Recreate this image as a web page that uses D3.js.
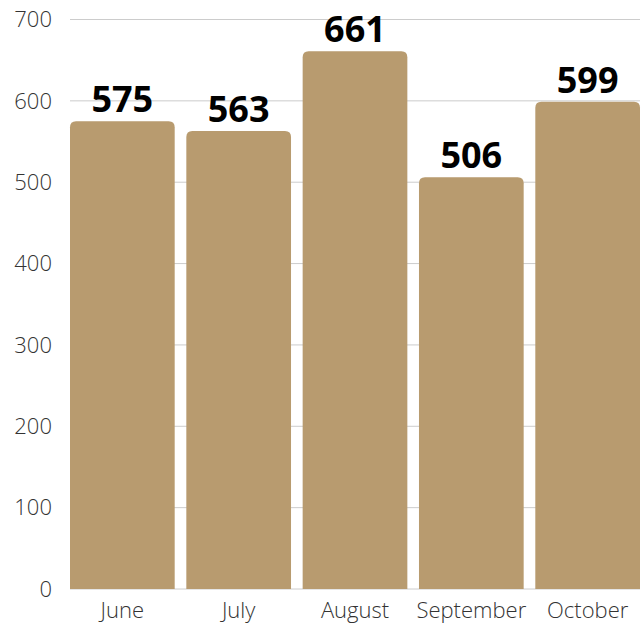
<!DOCTYPE html>
<html>
<head>
<meta charset="utf-8">
<script src="https://cdn.jsdelivr.net/npm/d3@7"></script>
<style>
  body { margin: 0; background: #fff; }
  text { font-family: "Open Sans", sans-serif; }
</style>
</head>
<body>
<script>
var months = ["June", "July", "August", "September", "October"];
var counts = [575, 563, 661, 506, 599];
var yTicks = [0, 100, 200, 300, 400, 500, 600, 700];

var W = 641, H = 624;
var margin = {top: 19.5, right: 1, bottom: 35, left: 70},
    width = W - margin.left - margin.right,
    height = H - margin.top - margin.bottom;

var svg = d3.select("body").append("svg")
    .attr("width", W)
    .attr("height", H)
  .append("g")
    .attr("transform", "translate(" + margin.left + "," + margin.top + ")");

var x = d3.scaleBand().domain(months).range([0, width]).paddingInner(0.1).paddingOuter(0);
var y = d3.scaleLinear().domain([0, 700]).range([height, 0]);

// gridlines
svg.append("g")
    .selectAll("line")
    .data(yTicks)
    .enter().append("line")
      .attr("x1", 0)
      .attr("x2", width)
      .attr("y1", function(d) { return y(d); })
      .attr("y2", function(d) { return y(d); })
      .attr("stroke", "#cccccc")
      .attr("stroke-width", 1);

// y labels
svg.append("g")
  .selectAll("text")
  .data(yTicks)
  .enter().append("text")
    .attr("x", -18)
    .attr("y", function(d) { return y(d); })
    .attr("dy", "0.35em")
    .attr("text-anchor", "end")
    .style("font-size", "22px")
    .style("font-weight", 300)
    .style("fill", "#333")
    .text(function(d) { return d; });

// bars, rounded top only
var r = 6;
function barPath(d, i) {
  var x0 = x(months[i]), w = x.bandwidth(), y0 = y(d), y1 = y(0);
  return "M" + x0 + "," + y1 +
    "V" + (y0 + r) +
    "Q" + x0 + "," + y0 + " " + (x0 + r) + "," + y0 +
    "H" + (x0 + w - r) +
    "Q" + (x0 + w) + "," + y0 + " " + (x0 + w) + "," + (y0 + r) +
    "V" + y1 + "Z";
}

svg.append("g")
  .selectAll("path")
  .data(counts)
  .enter().append("path")
    .attr("d", barPath)
    .attr("fill", "#b89b6f");

// value labels
svg.append("g")
  .selectAll("text")
  .data(counts)
  .enter().append("text")
    .attr("x", function(d, i) { return x(months[i]) + x.bandwidth() / 2; })
    .attr("y", function(d) { return y(d) - 9; })
    .attr("text-anchor", "middle")
    .style("font-size", "36px")
    .style("font-weight", 700)
    .style("fill", "#000")
    .text(function(d) { return d; });

// x labels
svg.append("g")
  .selectAll("text")
  .data(months)
  .enter().append("text")
    .attr("x", function(d) { return x(d) + x.bandwidth() / 2; })
    .attr("y", height + 29)
    .attr("text-anchor", "middle")
    .style("font-size", "22px")
    .style("font-weight", 300)
    .style("fill", "#333")
    .text(function(d) { return d; });
</script>
</body>
</html>
